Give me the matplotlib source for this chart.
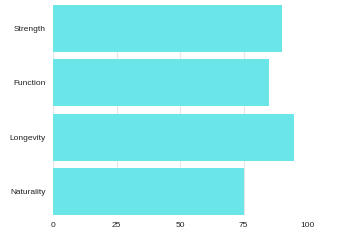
import matplotlib.pyplot as plt

# --- Data ---
categories = ["Strength", "Function", "Longevity", "Naturality"]
scores = [90, 85, 95, 75]
x_ticks = [0, 25, 50, 75, 100]

bar_color = "#6be6e8"
grid_color = "#e6e6e6"
bar_h = 0.87

plt.rcParams['font.family'] = ['Liberation Sans', 'DejaVu Sans']

fig = plt.figure(figsize=(3.5, 2.41), dpi=100)
ax = fig.add_axes([53 / 350, 1 - 215 / 241, (307 - 53) / 350, (215 - 5) / 241])

y_pos = list(range(len(categories)))
ax.barh(y_pos, scores, height=bar_h, color=bar_color, zorder=2)

ax.set_xlim(0, 100)
ax.set_ylim(len(categories) - 1 + bar_h / 2, -bar_h / 2)
ax.set_yticks(y_pos)
ax.set_yticklabels(categories)
ax.set_xticks(x_ticks)
ax.set_xticklabels([str(t) for t in x_ticks])

ax.grid(axis='x', color=grid_color, linewidth=0.8, zorder=0)
ax.set_axisbelow(True)
for spine in ax.spines.values():
    spine.set_visible(False)
ax.tick_params(axis='both', length=0, labelsize=6, colors='#222222')
ax.tick_params(axis='y', pad=5)
ax.tick_params(axis='x', pad=5)

fig.savefig("out.png", dpi=100, facecolor='white')
